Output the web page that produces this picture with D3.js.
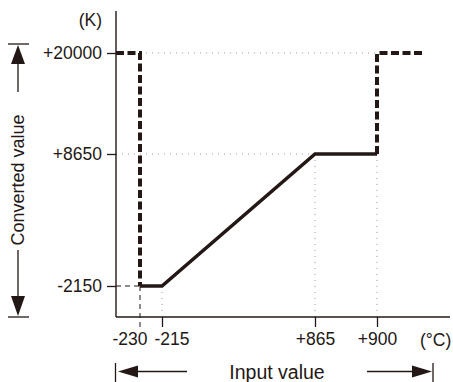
<!DOCTYPE html>
<html>
<head>
<meta charset="utf-8">
<script src="https://cdn.jsdelivr.net/npm/d3@7"></script>
<style>
  html, body { margin: 0; padding: 0; background: #fff; }
  svg { display: block; }
  text { font-family: "Liberation Sans", Arial, Helvetica, sans-serif; fill: #231815; }
</style>
</head>
<body>
<svg id="chart" width="453" height="382"></svg>
<script>
// ---- data ----
const xTicks = [-230, -215, 865, 900];
const xTickLabels = ["-230", "-215", "+865", "+900"];
const yTicks = [-2150, 8650, 20000];
const yTickLabels = ["-2150", "+8650", "+20000"];

// solid conversion segment (input °C -> converted K)
const linearInput  = [-230, -215, 865, 900];
const linearOutput = [-2150, -2150, 8650, 8650];

// out-of-range (dashed) segments
const lowOutInput   = [-260, -230, -230];
const lowOutOutput  = [20000, 20000, -2150];
const highOutInput  = [900, 900, 1000];
const highOutOutput = [8650, 20000, 20000];

const xUnit = "(°C)";
const yUnit = "(K)";
const xTitle = "Input value";
const yTitle = "Converted value";

// ---- layout ----
const ink = "#231815";
const svg = d3.select("#chart");

// schematic (piecewise) scales
const x = d3.scaleLinear()
  .domain([-260, -230, -215, 865, 900, 1000, 1060])
  .range([116, 140, 162, 315, 377, 422, 450]);
const y = d3.scaleLinear()
  .domain([-4000, -2150, 8650, 20000, 24000])
  .range([317, 286, 154, 53, 11]);

const x0 = x(-260), y0 = y(-4000);

// dotted grid guides
const grid = svg.append("g").attr("stroke", "#9a9a9a").attr("stroke-width", 1)
  .attr("stroke-dasharray", "1,5").attr("fill", "none");
grid.append("line").attr("x1", x0).attr("x2", x(900)).attr("y1", y(20000)).attr("y2", y(20000));
grid.append("line").attr("x1", x0).attr("x2", x(865)).attr("y1", y(8650)).attr("y2", y(8650));
grid.append("line").attr("x1", x(-215)).attr("x2", x(-215)).attr("y1", y(-2150)).attr("y2", y0);
grid.append("line").attr("x1", x(865)).attr("x2", x(865)).attr("y1", y(8650)).attr("y2", y0);
grid.append("line").attr("x1", x(900)).attr("x2", x(900)).attr("y1", y(8650)).attr("y2", y0);

// thin dashed guides at -230 / -2150
const tg = svg.append("g").attr("stroke", ink).attr("stroke-width", 1)
  .attr("stroke-dasharray", "5,4").attr("fill", "none");
tg.append("line").attr("x1", x0).attr("x2", x(-230)).attr("y1", y(-2150)).attr("y2", y(-2150));
tg.append("line").attr("x1", x(-230)).attr("x2", x(-230)).attr("y1", y(-2150)).attr("y2", y0 + 10);

// axes
const yAxis = d3.axisLeft(y).tickValues(yTicks).tickFormat((d, i) => yTickLabels[i])
  .tickSize(9).tickSizeOuter(0).tickPadding(5);
const gy = svg.append("g").attr("transform", `translate(${x0},0)`).call(yAxis);
const xAxis = d3.axisBottom(x).tickValues(xTicks).tickFormat((d, i) => xTickLabels[i])
  .tickSize(10).tickSizeOuter(0).tickPadding(6);
const gx = svg.append("g").attr("transform", `translate(0,${y0})`).call(xAxis);

[gy, gx].forEach(g => {
  g.select(".domain").remove();
  g.selectAll(".tick line").attr("stroke", ink).attr("stroke-width", 1.3);
  g.selectAll(".tick text").attr("font-size", 17.5).style("fill", ink)
    .attr("font-family", "Liberation Sans, Arial, sans-serif");
});
gx.selectAll(".tick text").attr("dy", "0.71em").attr("y", 16);
// close-together labels spread apart as in the original
gx.selectAll(".tick").filter(d => d === -230).select("text")
  .attr("text-anchor", "end").attr("x", 7);
gx.selectAll(".tick").filter(d => d === -215).select("text")
  .attr("text-anchor", "start").attr("x", -8);
// -230 tick is part of thin dashed guide
gx.selectAll(".tick").filter(d => d === -230).select("line").remove();

// axis lines
svg.append("line").attr("x1", x0).attr("x2", x0).attr("y1", y(24000)).attr("y2", y0)
  .attr("stroke", ink).attr("stroke-width", 1.4);
svg.append("line").attr("x1", x0).attr("x2", x(1060)).attr("y1", y0).attr("y2", y0)
  .attr("stroke", ink).attr("stroke-width", 1.4);

// series
const line = d3.line().x(d => x(d[0])).y(d => y(d[1]));
const zipPts = (a, b) => a.map((v, i) => [v, b[i]]);

svg.append("path").datum(zipPts(lowOutInput, lowOutOutput)).attr("d", line)
  .attr("fill", "none").attr("stroke", ink).attr("stroke-width", 4)
  .attr("stroke-dasharray", "8,3.5");
svg.append("path").datum(zipPts(highOutInput, highOutOutput)).attr("d", line)
  .attr("fill", "none").attr("stroke", ink).attr("stroke-width", 4)
  .attr("stroke-dasharray", "8,3.5");
svg.append("path").datum(zipPts(linearInput, linearOutput)).attr("d", line)
  .attr("fill", "none").attr("stroke", ink).attr("stroke-width", 3.5)
  .attr("stroke-linejoin", "miter");

// units
svg.append("text").attr("x", 102).attr("y", 26).attr("text-anchor", "end")
  .attr("font-size", 17.5).text(yUnit);
svg.append("text").attr("x", 420).attr("y", 346).attr("text-anchor", "start")
  .attr("font-size", 17.5).text(xUnit);

// y title with arrows
svg.append("text").attr("transform", "translate(24,180) rotate(-90)")
  .attr("text-anchor", "middle").attr("font-size", 18).text(yTitle);
const arr = svg.append("g").attr("stroke", ink).attr("stroke-width", 1.3).attr("fill", ink);
// top
arr.append("line").attr("x1", 8).attr("x2", 29).attr("y1", 44).attr("y2", 44);
arr.append("line").attr("x1", 18).attr("x2", 18).attr("y1", 62).attr("y2", 92);
arr.append("path").attr("d", "M18,45L11,64L25,64Z").attr("stroke", "none");
// bottom
arr.append("line").attr("x1", 8).attr("x2", 29).attr("y1", 317).attr("y2", 317);
arr.append("line").attr("x1", 18).attr("x2", 18).attr("y1", 250).attr("y2", 298);
arr.append("path").attr("d", "M18,316L11,296L25,296Z").attr("stroke", "none");

// x title with arrows
svg.append("text").attr("x", 277).attr("y", 379).attr("text-anchor", "middle")
  .attr("font-size", 19.5).text(xTitle);
// left
arr.append("line").attr("x1", 115.5).attr("x2", 115.5).attr("y1", 363).attr("y2", 382);
arr.append("line").attr("x1", 136).attr("x2", 187).attr("y1", 371.5).attr("y2", 371.5);
arr.append("path").attr("d", "M118,371.5L138,365.5L138,377.5Z").attr("stroke", "none");
// right
arr.append("line").attr("x1", 433).attr("x2", 433).attr("y1", 363).attr("y2", 382);
arr.append("line").attr("x1", 367).attr("x2", 414).attr("y1", 371.5).attr("y2", 371.5);
arr.append("path").attr("d", "M432,371.5L412,365.5L412,377.5Z").attr("stroke", "none");
</script>
</body>
</html>
